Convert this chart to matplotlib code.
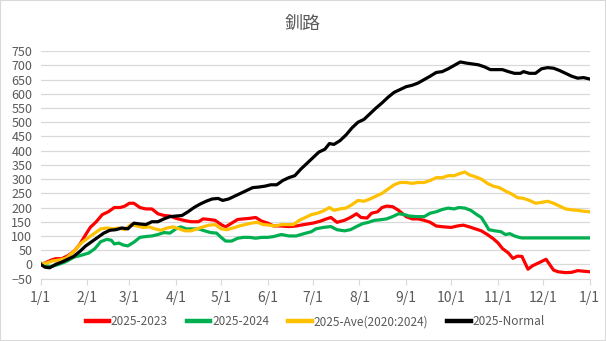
import matplotlib.pyplot as plt
from matplotlib.patches import Rectangle

plt.rcParams['font.family'] = ['Noto Sans CJK JP', 'DejaVu Sans']

# month starts (day of year) and their labels
month_days = [0, 31, 59, 90, 120, 151, 181, 212, 243, 273, 304, 334, 365]
month_labels = ["1/1", "2/1", "3/1", "4/1", "5/1", "6/1", "7/1", "8/1",
                "9/1", "10/1", "11/1", "12/1", "1/1"]

# 2025-2023
red_days = [0, 3, 7, 10, 14, 18, 22, 26, 30, 33, 37, 41, 45, 49, 53, 56, 59, 62,
            66, 70, 74, 78, 82, 86, 90, 95, 100, 105, 108, 112, 116, 120, 123,
            127, 131, 135, 139, 143, 147, 151, 155, 160, 165, 170, 175, 181, 186,
            190, 193, 197, 202, 206, 210, 213, 217, 220, 224, 227, 230, 234, 238,
            243, 247, 251, 255, 259, 263, 268, 273, 277, 281, 285, 289, 293, 297,
            301, 304, 307, 311, 314, 317, 320, 324, 327, 331, 336, 341, 344, 349,
            353, 357, 361, 365]
red_vals = [0, 5, 15, 20, 20, 30, 45, 70, 105, 130, 150, 175, 185, 200, 200, 205,
            215, 215, 200, 195, 195, 178, 172, 170, 162, 155, 150, 150, 160, 158,
            155, 140, 132, 145, 158, 160, 162, 165, 152, 145, 135, 135, 133, 135,
            140, 145, 152, 160, 165, 148, 155, 165, 178, 165, 163, 180, 185, 200,
            205, 203, 190, 168, 160, 160, 155, 148, 135, 132, 130, 135, 138, 132,
            125, 118, 105, 90, 76, 56, 40, 21, 29, 28, -17, -5, 5, 18, -20, -26,
            -29, -28, -22, -24, -26]

# 2025-2024
green_days = [0, 3, 7, 12, 17, 22, 27, 32, 36, 40, 44, 47, 49, 52, 55, 58, 62, 66,
              70, 74, 78, 82, 86, 90, 93, 97, 101, 105, 109, 113, 117, 120, 123,
              127, 131, 135, 139, 143, 147, 151, 155, 160, 165, 170, 175, 180, 183,
              188, 193, 197, 202, 206, 210, 214, 218, 222, 226, 230, 234, 238, 242,
              245, 250, 255, 259, 263, 267, 271, 275, 278, 282, 286, 290, 293, 296,
              298, 302, 306, 309, 312, 315, 318, 320, 365]
green_vals = [5, -5, -8, 0, 10, 25, 32, 40, 55, 80, 88, 85, 72, 75, 68, 65, 78, 95,
              98, 100, 105, 112, 110, 125, 132, 125, 125, 125, 118, 112, 110, 95,
              82, 82, 92, 95, 95, 92, 95, 95, 98, 105, 100, 100, 108, 115, 125, 130,
              133, 122, 118, 122, 133, 143, 148, 155, 157, 160, 168, 178, 175, 170,
              168, 168, 180, 185, 193, 198, 195, 200, 198, 190, 175, 165, 140, 122,
              118, 115, 105, 108, 100, 95, 93, 93]

# 2025-Ave(2020:2024)
ave_days = [0, 4, 8, 12, 17, 22, 27, 32, 36, 40, 44, 48, 52, 56, 60, 64, 68, 72, 76,
            80, 84, 88, 92, 96, 100, 104, 108, 112, 116, 120, 124, 128, 132, 136,
            140, 144, 148, 152, 156, 160, 164, 168, 172, 176, 180, 184, 188, 192,
            195, 199, 203, 207, 211, 215, 219, 223, 227, 231, 235, 239, 243, 247,
            251, 255, 259, 263, 267, 271, 275, 279, 282, 285, 289, 293, 297, 301,
            305, 309, 313, 317, 321, 325, 329, 333, 337, 341, 345, 349, 353, 357,
            361, 365]
ave_vals = [0, 5, 12, 15, 22, 45, 75, 95, 110, 125, 128, 125, 128, 122, 140, 135,
            130, 132, 125, 120, 128, 132, 125, 118, 118, 125, 132, 138, 140, 125,
            122, 128, 135, 140, 145, 148, 140, 138, 135, 140, 140, 140, 155, 165,
            175, 180, 188, 200, 190, 195, 198, 210, 225, 222, 230, 240, 250, 265,
            280, 288, 288, 285, 288, 288, 295, 305, 305, 312, 312, 320, 325, 315,
            308, 300, 285, 275, 270, 258, 248, 235, 232, 225, 215, 218, 222, 215,
            205, 195, 192, 190, 187, 185]

# 2025-Normal
normal_days = [0, 3, 6, 10, 14, 18, 22, 26, 30, 34, 38, 42, 46, 50, 54, 58, 62, 66,
               70, 74, 78, 82, 86, 90, 94, 98, 102, 106, 110, 114, 118, 121, 125,
               129, 133, 137, 141, 145, 149, 153, 157, 161, 165, 169, 173, 177, 181,
               185, 189, 192, 195, 199, 203, 207, 211, 215, 219, 223, 227, 231, 235,
               239, 243, 247, 251, 255, 259, 263, 267, 271, 275, 279, 283, 287, 291,
               295, 299, 303, 307, 311, 315, 319, 321, 325, 329, 333, 337, 341, 345,
               349, 353, 357, 361, 365]
normal_vals = [0, -10, -12, 0, 8, 18, 28, 45, 65, 80, 95, 110, 120, 122, 128, 125,
               145, 142, 140, 150, 150, 160, 168, 170, 172, 185, 200, 212, 222, 230,
               232, 225, 230, 240, 250, 260, 270, 272, 275, 280, 280, 295, 305, 312,
               335, 355, 375, 395, 405, 425, 422, 435, 455, 480, 500, 510, 530, 550,
               568, 588, 605, 615, 625, 630, 638, 650, 662, 675, 678, 688, 700, 712,
               708, 705, 702, 695, 685, 685, 685, 678, 672, 672, 678, 672, 672, 688,
               692, 690, 682, 672, 662, 655, 657, 652]

series = [
    ("2025-2023", red_days, red_vals, "#FF0000"),
    ("2025-2024", green_days, green_vals, "#00B050"),
    ("2025-Ave(2020:2024)", ave_days, ave_vals, "#FFC000"),
    ("2025-Normal", normal_days, normal_vals, "#000000"),
]

fig = plt.figure(figsize=(6.06, 3.41), dpi=100)
ax = fig.add_axes([0.067, 0.183, 0.906, 0.667])

for name, d, v, c in series:
    ax.plot(d, v, color=c, lw=2.3, label=name, solid_joinstyle='round')

ax.set_xlim(0, 365)
ax.set_ylim(-50, 750)
ax.set_yticks(range(-50, 751, 50))
ax.set_xticks(month_days)
ax.set_xticklabels(month_labels)
ax.grid(axis='y', color='#D9D9D9', lw=0.9)
ax.set_axisbelow(True)
for s in ['top', 'right', 'left']:
    ax.spines[s].set_visible(False)
ax.spines['bottom'].set_color('#D9D9D9')
ax.tick_params(axis='y', length=0, labelsize=9, labelcolor='#595959', pad=6)
ax.tick_params(axis='x', length=4, color='#D9D9D9', labelsize=10,
               labelcolor='#595959', pad=5)

fig.suptitle("釧路", y=0.955, fontsize=13, color='#595959')

leg = ax.legend(loc='center', bbox_to_anchor=(0.5, -0.19), ncol=4, frameon=False,
                fontsize=8.5, handlelength=2.0, handletextpad=0.15,
                columnspacing=1.6, labelcolor='#595959')
for h in leg.get_lines():
    h.set_linewidth(3.2)

fig.patches.append(Rectangle((0, 0), 1, 1, transform=fig.transFigure, fill=False,
                             edgecolor='#D9D9D9', lw=1.5))

fig.savefig("out.png", dpi=100)
